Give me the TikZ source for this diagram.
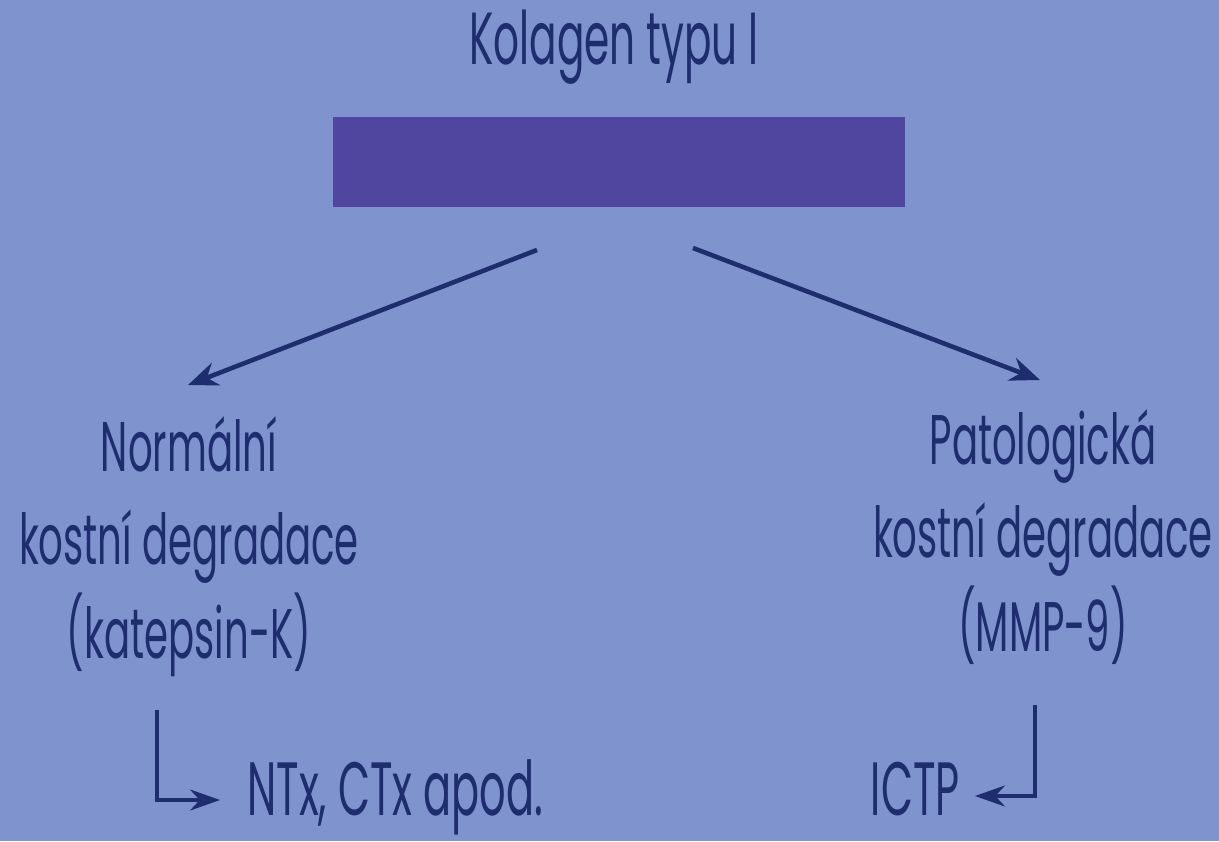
\documentclass[tikz,border=0pt]{standalone}
\usepackage{fontspec}
\setmainfont{Poppins}[FakeStretch=0.55]
\usetikzlibrary{arrows.meta, positioning}
\definecolor{bgblue}{RGB}{127,147,207}
\definecolor{barviolet}{RGB}{80,70,160}
\definecolor{inkblue}{RGB}{30,45,110}

\begin{document}
\begin{tikzpicture}[x=0.02cm, y=-0.02cm,
        word/.style={text=inkblue, font=\fontsize{40}{53}\selectfont, align=center, inner sep=0pt, anchor=base},
        bar/.style={fill=barviolet, minimum width=11.44cm, minimum height=1.8cm, inner sep=0pt},
        arrow/.style={-{Stealth[length=6mm, width=4.8mm]}, line width=2.6pt, draw=inkblue},
        elbow/.style={-{Stealth[length=6mm, width=4.2mm]}, line width=1.9pt, draw=inkblue}
    ]
    \fill[bgblue] (0,0) rectangle (1219,841);
    \useasboundingbox (0,0) rectangle (1219,841);
    \node[word, font=\fontsize{42}{53}\selectfont] (title) at (614,65) {Kolagen typu I};
    \node[bar] (collagen) at (619,162) {};
    \node[word] (normal) at (189,658) {Normální\\kostní degradace\\(katepsin-K)};
    \node[word] (patol) at (1043,651) {Patologická\\kostní degradace\\(MMP-9)};
    \node[word, font=\fontsize{43}{53}\selectfont, anchor=base west] (ntx) at (247,815) {NTx, CTx apod.};
    \node[word, font=\fontsize{43}{53}\selectfont, anchor=base east] (ictp) at (960,815) {ICTP};
    % split arrows
    \coordinate (ls) at (537,250);
    \coordinate (le) at (188,385);
    \coordinate (rs) at (693,248);
    \coordinate (re) at (1040,380);
    \draw[arrow] (ls) -- (le);
    \draw[arrow] (rs) -- (re);
    % products
    \coordinate (lk) at (157,710);
    \coordinate (lt) at (220,800);
    \coordinate (rk) at (1035,705);
    \coordinate (rt) at (975,796);
    \draw[elbow] (lk) |- (lt);
    \draw[elbow] (rk) |- (rt);
\end{tikzpicture}
\end{document}
